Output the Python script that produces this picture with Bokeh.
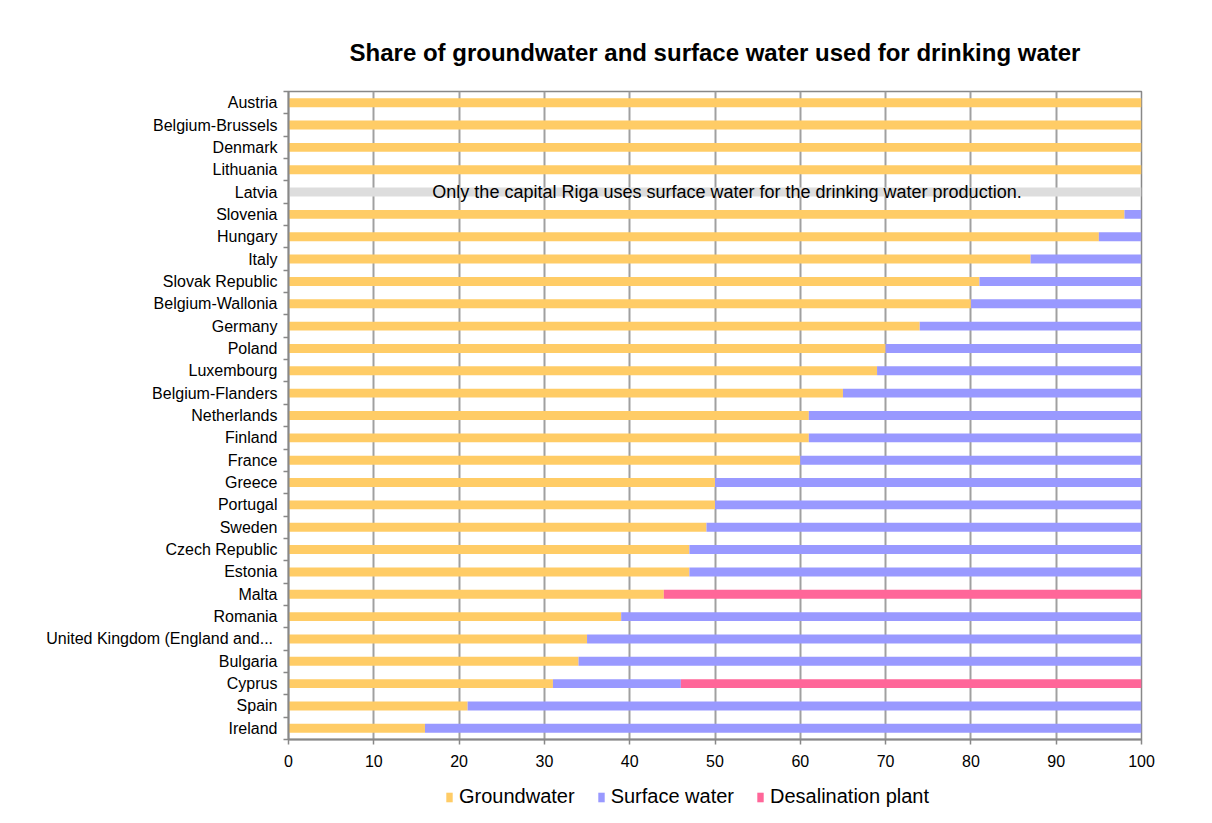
from bokeh.plotting import figure
from bokeh.layouts import column
from bokeh.models import Range1d, FixedTicker, Legend, LegendItem, Label, ColumnDataSource
from bokeh.embed import file_html
from bokeh.resources import INLINE

title_text = "Share of groundwater and surface water used for drinking water"
categories = ["Austria", "Belgium-Brussels", "Denmark", "Lithuania", "Latvia", "Slovenia",
              "Hungary", "Italy", "Slovak Republic", "Belgium-Wallonia", "Germany", "Poland",
              "Luxembourg", "Belgium-Flanders", "Netherlands", "Finland", "France", "Greece",
              "Portugal", "Sweden", "Czech Republic", "Estonia", "Malta", "Romania",
              "United Kingdom  (England and...", "Bulgaria", "Cyprus", "Spain", "Ireland"]
groundwater = [100, 100, 100, 100, 0, 98, 95, 87, 81, 80, 74, 70, 69, 65, 61, 61, 60, 50,
               50, 49, 47, 47, 44, 39, 35, 34, 31, 21, 16]
surface = [0, 0, 0, 0, 0, 2, 5, 13, 19, 20, 26, 30, 31, 35, 39, 39, 40, 50,
           50, 51, 53, 53, 0, 61, 65, 66, 15, 79, 84]
desalination = [0, 0, 0, 0, 0, 0, 0, 0, 0, 0, 0, 0, 0, 0, 0, 0, 0, 0,
                0, 0, 0, 0, 56, 0, 0, 0, 54, 0, 0]
not_specified = [0, 0, 0, 0, 100, 0, 0, 0, 0, 0, 0, 0, 0, 0, 0, 0, 0, 0,
                 0, 0, 0, 0, 0, 0, 0, 0, 0, 0, 0]
series_names = ["Groundwater", "Surface water", "Desalination plant"]
note_text = "Only the capital  Riga uses surface water for the drinking water production."
note_country = "Latvia"
note_x = 51.7
x_ticks = [0, 10, 20, 30, 40, 50, 60, 70, 80, 90, 100]

colors = ["#FFCC66", "#9999FF", "#FF6699"]
FONT = "Liberation Sans"
n = len(categories)

src = ColumnDataSource(dict(y=list(range(n)), groundwater=groundwater, surface=surface,
                            desalination=desalination, not_specified=not_specified))

LEFT, RIGHT = 288, 60
p = figure(frame_width=853, frame_height=648, output_backend="svg", toolbar_location=None,
           x_range=Range1d(0, 100), y_range=Range1d(n - 0.5, -0.5),
           min_border_left=LEFT, min_border_right=RIGHT, min_border_top=91, min_border_bottom=36)

p.title.text = title_text
p.title.align = "center"
p.title.text_font = FONT
p.title.text_font_size = "24px"
p.title.text_font_style = "bold"
p.title.text_color = "black"
p.title.standoff = 52

p.hbar(y="y", left=0, right="not_specified", height=0.4, source=src,
       fill_color="#DDDDDD", line_color=None)
rs = p.hbar_stack(["groundwater", "surface", "desalination"], y="y", height=0.4,
                  color=colors, line_color=None, source=src)

p.add_layout(Label(x=note_x, y=categories.index(note_country), text=note_text,
                   text_align="center", text_baseline="middle",
                   text_font=FONT, text_font_size="18px", text_color="black"))

p.xaxis.ticker = FixedTicker(ticks=x_ticks)
p.xaxis.major_label_text_font = FONT
p.xaxis.major_label_text_font_size = "16px"
p.xaxis.major_label_text_color = "black"
p.xaxis.axis_line_color = "#888888"
p.xaxis.axis_line_width = 2
p.xaxis.major_tick_line_color = "#888888"
p.xaxis.major_tick_line_width = 1.5
p.xaxis.major_tick_out = 5
p.xaxis.major_tick_in = 0
p.xaxis.minor_tick_line_color = None
p.xaxis.major_label_standoff = 10

p.yaxis.ticker = FixedTicker(ticks=list(range(n)), minor_ticks=[i - 0.5 for i in range(n + 1)])
p.yaxis.major_label_overrides = {i: c for i, c in enumerate(categories)}
p.yaxis.major_label_text_font = FONT
p.yaxis.major_label_text_font_size = "16px"
p.yaxis.major_label_text_color = "black"
p.yaxis.axis_line_color = "#888888"
p.yaxis.axis_line_width = 2
p.yaxis.major_tick_line_color = None
p.yaxis.major_tick_out = 5
p.yaxis.major_tick_in = 0
p.yaxis.minor_tick_line_color = "#888888"
p.yaxis.minor_tick_line_width = 1.5
p.yaxis.minor_tick_out = 5
p.yaxis.minor_tick_in = 0
p.yaxis.major_label_standoff = 6

p.xgrid.ticker = FixedTicker(ticks=x_ticks)
p.xgrid.grid_line_color = "#a0a0a0"
p.xgrid.grid_line_width = 2
p.ygrid.grid_line_color = None

p.outline_line_color = "#888888"
p.outline_line_width = 1.5

# legend strip underneath the chart (its frame is aligned with the chart's frame)
p2 = figure(width=LEFT + 853 + RIGHT, height=36, output_backend="svg", toolbar_location=None,
            x_range=Range1d(0, 1), y_range=Range1d(0, 1), min_border=0)
p2.axis.visible = False
p2.grid.grid_line_color = None
p2.outline_line_color = None
proxy = ColumnDataSource(dict(y=[-10], right=[0]))
proxies = [p2.hbar(y="y", right="right", height=0.4, fill_color=c, line_color=None, source=proxy)
           for c in colors]
legend = Legend(items=[LegendItem(label=series_names[i], renderers=[proxies[i]]) for i in range(3)],
                orientation="horizontal", location=(157, 3),
                label_text_font=FONT, label_text_font_size="20px", label_text_color="black",
                glyph_width=8, glyph_height=12, label_standoff=6, spacing=22,
                border_line_color=None, background_fill_color=None, margin=0, padding=2)
p2.add_layout(legend)

open("out.html", "w").write(file_html(column(p, p2), INLINE))
